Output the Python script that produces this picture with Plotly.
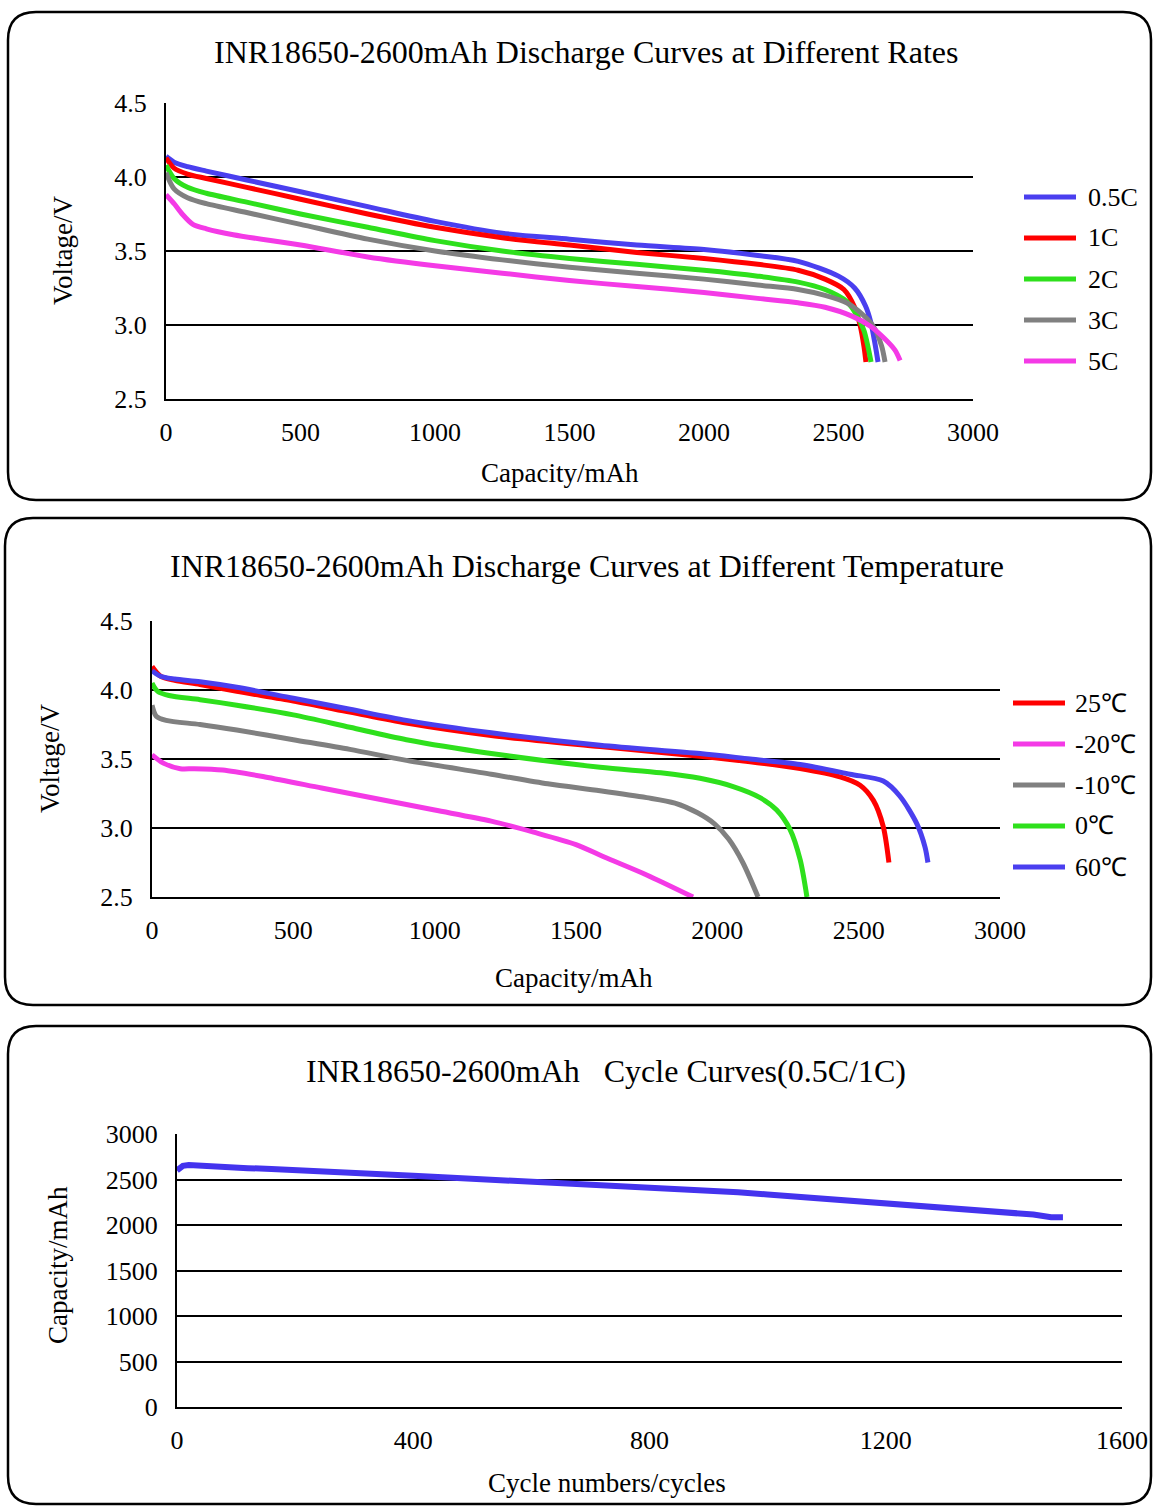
import plotly.graph_objects as go

W, H = 1154, 1506
FONT = "Liberation Serif"

# ---------------- Panel 1: discharge at different rates ----------------
rate_title = "INR18650-2600mAh Discharge Curves at Different Rates"
rate_names = ["0.5C", "1C", "2C", "3C", "5C"]
rate_colors = ["#4A3FEF", "#FF0000", "#2EE01C", "#808080", "#F43AE6"]

cap_05C = [0, 30, 80, 150, 300, 500, 750, 1000, 1250, 1500, 1750, 2000, 2200, 2350, 2500, 2560, 2600, 2620, 2635, 2647]
v_05C = [4.14, 4.10, 4.07, 4.04, 3.98, 3.90, 3.80, 3.70, 3.62, 3.58, 3.54, 3.51, 3.47, 3.43, 3.33, 3.25, 3.13, 3.02, 2.88, 2.75]

cap_1C = [0, 30, 80, 150, 300, 500, 750, 1000, 1250, 1500, 1750, 2000, 2200, 2350, 2450, 2520, 2560, 2580, 2595, 2602]
v_1C = [4.13, 4.06, 4.02, 3.99, 3.93, 3.85, 3.75, 3.66, 3.59, 3.54, 3.49, 3.45, 3.41, 3.37, 3.31, 3.24, 3.12, 3.00, 2.85, 2.75]

cap_2C = [0, 30, 80, 150, 300, 500, 750, 1000, 1250, 1500, 1750, 2000, 2200, 2350, 2450, 2530, 2570, 2595, 2610, 2621]
v_2C = [4.08, 3.99, 3.93, 3.89, 3.83, 3.75, 3.66, 3.57, 3.50, 3.45, 3.41, 3.37, 3.33, 3.29, 3.24, 3.16, 3.06, 2.96, 2.85, 2.75]

cap_3C = [0, 30, 80, 150, 300, 500, 750, 1000, 1250, 1500, 1750, 2000, 2200, 2350, 2450, 2530, 2590, 2630, 2660, 2673]
v_3C = [4.03, 3.92, 3.86, 3.82, 3.76, 3.68, 3.58, 3.50, 3.44, 3.39, 3.35, 3.31, 3.27, 3.24, 3.20, 3.15, 3.07, 2.99, 2.86, 2.75]

cap_5C = [0, 30, 60, 100, 150, 250, 500, 750, 1000, 1250, 1500, 1750, 2000, 2200, 2350, 2450, 2550, 2620, 2670, 2710, 2729]
v_5C = [3.88, 3.82, 3.75, 3.68, 3.65, 3.61, 3.54, 3.46, 3.40, 3.35, 3.30, 3.26, 3.22, 3.18, 3.15, 3.12, 3.06, 2.99, 2.91, 2.83, 2.76]

# ---------------- Panel 2: discharge at different temperatures ----------------
temp_title = "INR18650-2600mAh Discharge Curves at Different Temperature"
temp_names = ["25\u2103", "-20\u2103", "-10\u2103", "0\u2103", "60\u2103"]
temp_colors = ["#FF0000", "#F43AE6", "#808080", "#2EE01C", "#4A3FEF"]

cap_25 = [0, 30, 80, 170, 300, 500, 700, 900, 1200, 1585, 1939, 2116, 2293, 2434, 2505, 2552, 2587, 2607]
v_25 = [4.17, 4.10, 4.07, 4.04, 3.99, 3.92, 3.84, 3.76, 3.67, 3.59, 3.52, 3.48, 3.43, 3.37, 3.31, 3.20, 3.01, 2.75]

cap_m20 = [0, 40, 100, 150, 250, 400, 600, 800, 1000, 1200, 1350, 1500, 1600, 1750, 1914]
v_m20 = [3.53, 3.47, 3.43, 3.43, 3.42, 3.37, 3.29, 3.21, 3.13, 3.05, 2.97, 2.88, 2.79, 2.66, 2.50]

cap_m10 = [0, 15, 50, 170, 300, 500, 700, 900, 1200, 1400, 1585, 1750, 1850, 1930, 1990, 2040, 2090, 2144]
v_m10 = [3.89, 3.81, 3.78, 3.75, 3.71, 3.64, 3.57, 3.49, 3.39, 3.32, 3.27, 3.22, 3.18, 3.11, 3.03, 2.92, 2.75, 2.50]

cap_0 = [0, 20, 60, 170, 300, 500, 700, 900, 1200, 1585, 1800, 1939, 2056, 2151, 2210, 2257, 2293, 2317]
v_0 = [4.05, 3.99, 3.96, 3.93, 3.89, 3.82, 3.73, 3.64, 3.54, 3.44, 3.40, 3.36, 3.30, 3.22, 3.13, 2.99, 2.77, 2.50]

cap_60 = [0, 30, 80, 170, 300, 500, 700, 900, 1200, 1585, 1939, 2116, 2293, 2469, 2587, 2646, 2706, 2735, 2745]
v_60 = [4.14, 4.10, 4.08, 4.06, 4.02, 3.94, 3.86, 3.78, 3.69, 3.60, 3.54, 3.50, 3.46, 3.39, 3.34, 3.23, 3.03, 2.86, 2.75]

# ---------------- Panel 3: cycle curve ----------------
cycle_title = "INR18650-2600mAh\u00a0\u00a0\u00a0Cycle Curves(0.5C/1C)"
cycles = [0, 5, 10, 20, 40, 80, 120, 160, 200, 250, 300, 350, 400, 450, 500, 550, 600, 650, 700, 750,
          800, 850, 900, 950, 1000, 1050, 1100, 1150, 1200, 1250, 1300, 1350, 1400, 1450, 1480, 1500]
cycle_cap = [2600, 2635, 2650, 2660, 2650, 2635, 2625, 2615, 2605, 2590, 2575, 2560, 2540, 2525, 2510, 2495,
             2480, 2465, 2450, 2430, 2410, 2395, 2380, 2360, 2335, 2310, 2285, 2265, 2245, 2220, 2195, 2170,
             2145, 2115, 2085, 2085]
cycle_color = "#4433EE"

volt_ticks = [2.5, 3.0, 3.5, 4.0, 4.5]
cap_ticks = [0, 500, 1000, 1500, 2000, 2500, 3000]
cycle_ticks = [0, 400, 800, 1200, 1600]


def PX(x):
    return x / W


def PY(y):
    return 1 - y / H


fig = go.Figure()

rate_x = [cap_05C, cap_1C, cap_2C, cap_3C, cap_5C]
rate_y = [v_05C, v_1C, v_2C, v_3C, v_5C]
for name, col, xs, ys in zip(rate_names, rate_colors, rate_x, rate_y):
    fig.add_trace(go.Scatter(x=xs, y=ys, name=name, mode="lines", xaxis="x", yaxis="y",
                             line=dict(color=col, width=5, shape="spline", smoothing=0.8),
                             showlegend=False))

temp_x = [cap_25, cap_m20, cap_m10, cap_0, cap_60]
temp_y = [v_25, v_m20, v_m10, v_0, v_60]
draw_order = [1, 2, 3, 0, 4]
for i in draw_order:
    fig.add_trace(go.Scatter(x=temp_x[i], y=temp_y[i], name=temp_names[i], mode="lines", xaxis="x2", yaxis="y2",
                             line=dict(color=temp_colors[i], width=5, shape="spline", smoothing=0.8),
                             showlegend=False))

fig.add_trace(go.Scatter(x=cycles, y=cycle_cap, name="Capacity", mode="lines", xaxis="x3", yaxis="y3",
                         line=dict(color=cycle_color, width=6), showlegend=False))

tickfont = dict(family=FONT, size=26, color="black")


def xax(domain, rng, ticks, anchor):
    return dict(domain=domain, range=rng, tickvals=ticks, anchor=anchor, showgrid=False, zeroline=False,
                showline=True, linecolor="black", linewidth=2, ticks="", tickfont=tickfont,
                ticklabelstandoff=9, fixedrange=True, automargin=False)


def yax(domain, rng, ticks, anchor, fmt):
    return dict(domain=domain, range=rng, tickvals=ticks, anchor=anchor, showgrid=True, gridcolor="black",
                gridwidth=1.8, zeroline=False, showline=True, linecolor="black", linewidth=2, ticks="",
                tickfont=tickfont, tickformat=fmt, ticklabelstandoff=12, fixedrange=True, automargin=False)


fig.update_layout(
    template="none",
    width=W, height=H, margin=dict(l=0, r=0, t=0, b=0, pad=0), autosize=False,
    font=dict(family=FONT, color="black"),
    paper_bgcolor="white", plot_bgcolor="white", showlegend=False,
    xaxis=xax([PX(166), PX(973)], [0, 3000], cap_ticks, "y"),
    yaxis=yax([PY(399), PY(103)], [2.5, 4.5], volt_ticks, "x", ".1f"),
    xaxis2=xax([PX(152), PX(1000)], [0, 3000], cap_ticks, "y2"),
    yaxis2=yax([PY(897), PY(621)], [2.5, 4.5], volt_ticks, "x2", ".1f"),
    xaxis3=xax([PX(177), PX(1122)], [0, 1600], cycle_ticks, "y3"),
    yaxis3=yax([PY(1407), PY(1134)], [0, 3000], cap_ticks, "x3", "d"),
)


def rounded_box(x0, y0, x1, y1, r):
    X0, X1 = PX(x0), PX(x1)
    Yt, Yb = PY(y0), PY(y1)
    rx, ry = r / W, r / H
    p = (f"M {X0+rx},{Yt} L {X1-rx},{Yt} Q {X1},{Yt} {X1},{Yt-ry} "
         f"L {X1},{Yb+ry} Q {X1},{Yb} {X1-rx},{Yb} L {X0+rx},{Yb} Q {X0},{Yb} {X0},{Yb+ry} "
         f"L {X0},{Yt-ry} Q {X0},{Yt} {X0+rx},{Yt} Z")
    return dict(type="path", path=p, xref="paper", yref="paper", line=dict(color="black", width=2.5),
                fillcolor="rgba(0,0,0,0)", layer="below")


shapes = [rounded_box(8, 12, 1151, 500, 28),
          rounded_box(5, 518, 1151, 1005, 28),
          rounded_box(8, 1026, 1151, 1504, 28)]

annotations = []


def text(x, y, s, size, angle=0, xanchor="center"):
    annotations.append(dict(x=PX(x), y=PY(y), xref="paper", yref="paper", text=s, showarrow=False,
                            textangle=angle, xanchor=xanchor, yanchor="middle",
                            font=dict(family=FONT, size=size, color="black")))


text(586, 52, rate_title, 32)
text(560, 473, "Capacity/mAh", 27)
text(63, 251, "Voltage/V", 27, angle=-90)

text(587, 566, temp_title, 32)
text(574, 978, "Capacity/mAh", 27)
text(50, 759, "Voltage/V", 27, angle=-90)

text(606, 1071, cycle_title, 32)
text(607, 1483, "Cycle numbers/cycles", 27)
text(58, 1265, "Capacity/mAh", 27, angle=-90)

# legends (panel 1)
for k, (name, col) in enumerate(zip(rate_names, rate_colors)):
    yy = 197 + 41 * k
    shapes.append(dict(type="line", xref="paper", yref="paper", x0=PX(1024), x1=PX(1076), y0=PY(yy), y1=PY(yy),
                       line=dict(color=col, width=5)))
    text(1086, yy, name, 26, xanchor="left")

# legends (panel 2)
for k, (name, col) in enumerate(zip(temp_names, temp_colors)):
    yy = 703 + 41 * k
    shapes.append(dict(type="line", xref="paper", yref="paper", x0=PX(1013), x1=PX(1065), y0=PY(yy), y1=PY(yy),
                       line=dict(color=col, width=5)))
    text(1073, yy, name, 26, xanchor="left")

fig.update_layout(shapes=shapes, annotations=annotations)

fig.write_html("out.html", config={"displayModeBar": False},
               post_script="document.body.style.margin='0';document.body.style.overflow='hidden';")
